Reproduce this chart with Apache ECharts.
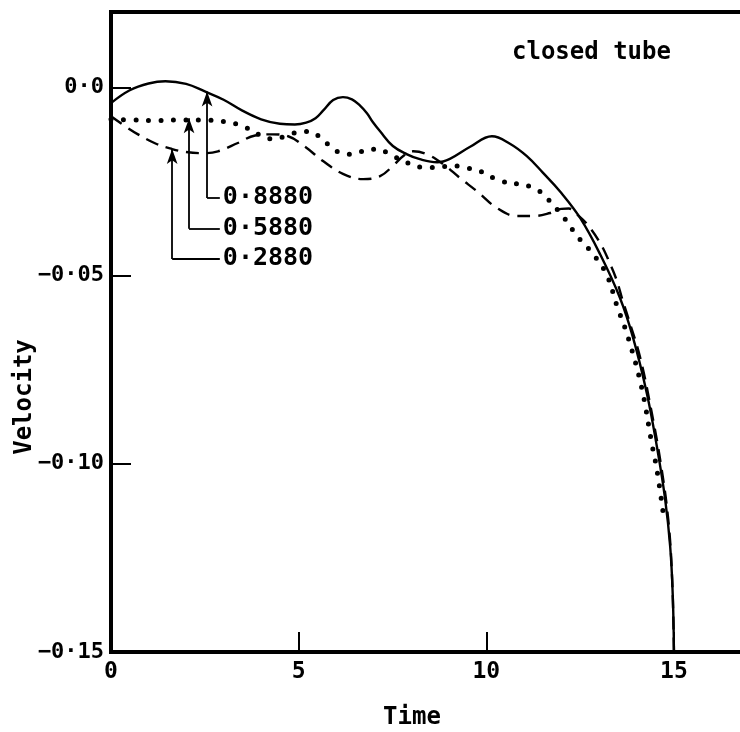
<!DOCTYPE html>
<html>
<head>
<meta charset="utf-8">
<script src="https://cdn.jsdelivr.net/npm/echarts@6/dist/echarts.min.js"></script>
<style>html,body{margin:0;padding:0;background:#fff}#c{width:740px;height:732px}</style>
</head>
<body>
<div id="c"></div>
<script>
// ---- data ----
const xTickLabels = ['0', '5', '10', '15'];
const yTickLabels = ['−0·15', '−0·10', '−0·05', '0·0'];
const seriesNames = ['0·8880', '0·5880', '0·2880'];

const solid8880 = [
  [0, -0.0042], [0.5, -0.0008], [1.0, 0.0010], [1.45, 0.0016], [2.0, 0.0009], [2.5, -0.0011],
  [3.0, -0.0033], [3.5, -0.0062], [4.0, -0.0085], [4.5, -0.0097], [4.9, -0.0099], [5.2, -0.0094],
  [5.45, -0.0082], [5.65, -0.0062], [5.92, -0.0034], [6.18, -0.0026], [6.42, -0.0032], [6.63, -0.0048],
  [6.82, -0.0069], [6.98, -0.0093], [7.17, -0.0117], [7.51, -0.0156], [7.89, -0.0178],
  [8.23, -0.0191], [8.69, -0.0199], [9.03, -0.0190], [9.57, -0.0158], [10.15, -0.0130],
  [10.63, -0.0150], [11.08, -0.0183], [11.5, -0.0226], [11.96, -0.0276], [12.5, -0.0347],
  [13.03, -0.0443], [13.56, -0.0559], [13.91, -0.0665], [14.28, -0.0814], [14.55, -0.0957],
  [14.76, -0.1090], [14.9, -0.1220], [14.97, -0.1354], [15.0, -0.1500]
];

const dotted5880 = [
  [0, -0.0085], [0.6, -0.0087], [1.2, -0.0088], [1.8, -0.0087], [2.4, -0.0087], [3.0, -0.0091],
  [3.5, -0.0103], [4.0, -0.0128], [4.3, -0.0137], [4.65, -0.0130], [5.1, -0.0117], [5.38, -0.0120],
  [5.62, -0.0138], [6.02, -0.0170], [6.29, -0.0178], [6.6, -0.0172], [7.11, -0.0164],
  [7.43, -0.0178], [7.91, -0.0201], [8.42, -0.0214], [8.8, -0.0211], [9.22, -0.0209],
  [9.51, -0.0215], [9.83, -0.0223], [10.37, -0.0248], [10.84, -0.0257], [11.22, -0.0265],
  [11.43, -0.0277], [11.64, -0.0297], [12.1, -0.0350], [12.42, -0.0395], [12.82, -0.0440],
  [13.2, -0.0496], [13.48, -0.0580], [13.78, -0.0665], [14.14, -0.0798], [14.41, -0.0946],
  [14.55, -0.1018], [14.74, -0.1150]
];

const dashed2880 = [
  [0, -0.0077], [0.4, -0.0105], [0.72, -0.0125], [1.2, -0.0150], [1.63, -0.0164], [2.0, -0.0172],
  [2.42, -0.0175], [2.85, -0.0170], [3.38, -0.0148], [3.84, -0.0128], [4.29, -0.0125],
  [4.72, -0.0130], [5.17, -0.0158], [5.65, -0.0196], [6.18, -0.0230], [6.72, -0.0244],
  [7.17, -0.0236], [7.51, -0.0209], [7.78, -0.0183], [8.05, -0.0170], [8.42, -0.0178],
  [8.85, -0.0204], [9.3, -0.0241], [9.75, -0.0276], [10.29, -0.0321], [10.82, -0.0342],
  [11.24, -0.0342], [11.7, -0.0334], [12.0, -0.0323], [12.2, -0.0322], [12.4, -0.0336],
  [12.68, -0.0363], [13.03, -0.0413], [13.3, -0.0469], [13.48, -0.0514], [13.62, -0.0562],
  [13.78, -0.0612], [14.1, -0.0718], [14.4, -0.0860], [14.65, -0.1000], [14.85, -0.1150],
  [14.95, -0.1300], [15.0, -0.1500]
];

// annotation arrows (data coordinates)
const arrowX = [2.56, 2.08, 1.63];
const arrowTipY = [-0.0011, -0.0082, -0.0164];
const labelY = [-0.0294, -0.0376, -0.0456];
const labelX = 2.9;

// ---- chart ----
const FONT = 'DejaVu Sans Mono';
const chart = echarts.init(document.getElementById('c'), null, {renderer: 'canvas'});

const arrowLines = [];
for (let i = 0; i < arrowX.length; i++) {
  arrowLines.push([{coord: [labelX, labelY[i]], symbol: 'none'}, {coord: [arrowX[i], labelY[i]], symbol: 'none'}]);
  arrowLines.push([{coord: [arrowX[i], labelY[i]], symbol: 'none'}, {coord: [arrowX[i], arrowTipY[i]], symbol: 'arrow', symbolSize: [8, 15]}]);
}

const option = {
  animation: false,
  backgroundColor: '#fff',
  grid: {
    left: 111, top: 12, width: 638, height: 640,
    show: true, borderColor: '#000', borderWidth: 4, backgroundColor: 'transparent',
    containLabel: false, outerBoundsMode: 'none'
  },
  xAxis: {
    type: 'value', min: 0, max: 17, interval: 5,
    axisLine: {show: false, onZero: false},
    axisTick: {show: true, inside: true, length: 20, lineStyle: {color: '#000', width: 2}},
    splitLine: {show: false},
    axisLabel: {
      show: true, margin: 9, color: '#000', fontFamily: FONT, fontSize: 23, fontWeight: 'bold',
      showMaxLabel: false,
      formatter: v => { const k = Math.round(v / 5); return (Math.abs(v - k * 5) < 1e-6 && k >= 0 && k < xTickLabels.length) ? xTickLabels[k] : ''; }
    }
  },
  yAxis: {
    type: 'value', min: -0.15, max: 0.02, interval: 0.05,
    axisLine: {show: false, onZero: false},
    axisTick: {show: true, inside: true, length: 20, lineStyle: {color: '#000', width: 2}},
    splitLine: {show: false},
    axisLabel: {
      show: true, margin: 7, color: '#000', fontFamily: FONT, fontSize: 22, fontWeight: 'bold',
      showMaxLabel: false,
      formatter: v => { const k = Math.round((v + 0.15) / 0.05); return (Math.abs(v - (-0.15 + k * 0.05)) < 1e-6 && k >= 0 && k < yTickLabels.length) ? yTickLabels[k] : ''; }
    }
  },
  series: [
    {
      name: seriesNames[0], type: 'line', data: solid8880, showSymbol: false, symbol: 'none',
      smooth: 0.4,
      lineStyle: {color: '#000', width: 2.4}
    },
    {
      name: seriesNames[1], type: 'line', data: dotted5880, showSymbol: false, symbol: 'none',
      smooth: 0.4,
      lineStyle: {color: '#000', width: 5, type: [0, 12.5], cap: 'round'}
    },
    {
      name: seriesNames[2], type: 'line', data: dashed2880, showSymbol: false, symbol: 'none',
      smooth: 0.4,
      lineStyle: {color: '#000', width: 2.4, type: [13, 8]}
    },
    {
      name: 'annotations', type: 'scatter', symbolSize: 0,
      itemStyle: {opacity: 1, color: '#000'},
      data: seriesNames.map((n, i) => ({name: n, value: [labelX, labelY[i]]})),
      label: {show: true, position: 'right', distance: 3, formatter: p => p.name, color: '#000', opacity: 1, fontFamily: FONT, fontSize: 25, fontWeight: 'bold'},
      markLine: {
        silent: true, animation: false,
        lineStyle: {color: '#000', width: 1.8, type: 'solid', opacity: 1},
        label: {show: false},
        data: arrowLines
      }
    }
  ],
  graphic: [
    {type: 'text', left: 512, top: 41, style: {text: 'closed tube', fill: '#000', font: 'bold 24px "DejaVu Sans Mono"'}},
    {type: 'text', x: 412, y: 718, style: {text: 'Time', fill: '#000', font: 'bold 24px "DejaVu Sans Mono"', textAlign: 'center', textVerticalAlign: 'middle'}},
    {type: 'text', x: 25, y: 397, rotation: Math.PI / 2, style: {text: 'Velocity', fill: '#000', font: 'bold 24px "DejaVu Sans Mono"', textAlign: 'center', textVerticalAlign: 'middle'}}
  ]
};
chart.setOption(option);
</script>
</body>
</html>
